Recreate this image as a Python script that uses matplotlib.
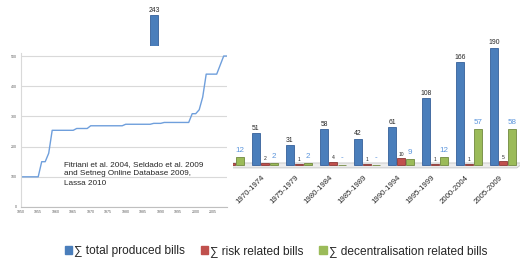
import matplotlib
matplotlib.use('Agg')
import matplotlib.pyplot as plt
from matplotlib.patches import Patch
import numpy as np

plt.rcParams['font.family'] = ['Liberation Sans', 'DejaVu Sans']

# bar chart data (five-year periods)
periods = ['1955-1959', '1960-1964', '1965-1969', '1970-1974', '1975-1979',
           '1980-1984', '1985-1989', '1990-1994', '1995-1999', '2000-2004',
           '2005-2009']
total_bills = [243, 120, 90, 51, 31, 58, 42, 61, 108, 166, 190]
risk_bills = [2, 1, 3, 2, 1, 4, 1, 10, 1, 1, 5]
decent_bills = [3, 2, 12, 2, 2, 0, 0, 9, 12, 57, 58]

# line chart data (cumulative)
years = [1950, 1955, 1956, 1957, 1958, 1959, 1965, 1966, 1969, 1970, 1979,
         1980, 1987, 1988, 1990, 1991, 1998, 1999, 2000, 2001, 2002, 2003,
         2006, 2007, 2008, 2009]
cumulative = [100, 100, 150, 150, 178, 254, 254, 260, 260, 269, 269, 274,
              274, 277, 277, 280, 280, 309, 309, 322, 364, 440, 440, 470,
              500, 500]

note = ('Fitriani et al. 2004, Seldado et al. 2009\n'
        'and Setneg Online Database 2009,\nLassa 2010')

W, H = 532, 265
fig = plt.figure(figsize=(W / 100, H / 100), dpi=100)

# ---- bar chart ----
ax = fig.add_axes([100 / W, 96 / H, 420 / W, 162 / H])
idx = np.arange(len(periods))
bw = 0.26
off = 0.265
blue, red, green = '#4a7ebb', '#c0504d', '#9bbb59'

# floor
ax.fill([-1.5, 10.41, 10.59, -1.5], [-5.5, -5.5, 2.5, 2.5], color='#ececec',
        ec='#c4c4c4', lw=0.6, zorder=1)

ax.bar(idx - off, total_bills, bw, color=blue, edgecolor='#36609a', lw=0.6, zorder=3)
ax.bar(idx, risk_bills, bw, color=red, edgecolor='#8c3836', lw=0.6, zorder=3)
ax.bar(idx + off, decent_bills, bw, color=green, edgecolor='#71893f', lw=0.6, zorder=3)

for i in idx:
    ax.text(i - off, total_bills[i] + 2, str(total_bills[i]), ha='center',
            va='bottom', fontsize=4.9, color='#262626')
    ax.text(i, risk_bills[i] + 3, str(risk_bills[i]), ha='center',
            va='bottom', fontsize=3.6, color='#262626')
    lab = str(decent_bills[i]) if decent_bills[i] > 0 else '-'
    ax.text(i + off, decent_bills[i] + 5, lab, ha='center', va='bottom',
            fontsize=5.8, color='#5b95dc')
    ax.text(i - 0.12, -15.4, periods[i], ha='right', va='top', rotation=45,
            rotation_mode='anchor', fontsize=5.6, color='#262626')

ax.set_xlim(-1.853, 10.5)
ax.set_ylim(-7.3, 256.1)
ax.axis('off')

# ---- white cover behind the line chart ----
cover = fig.add_axes([0, 41 / H, 233 / W, 178 / H], zorder=2)
cover.set_facecolor('white')
cover.set_xticks([])
cover.set_yticks([])
for s in cover.spines.values():
    s.set_visible(False)

# ---- line chart ----
lx = fig.add_axes([20.7 / W, 58 / H, 206.5 / W, 154 / H], zorder=3)
lx.set_facecolor('white')
lx.plot(years, cumulative, color='#6f9fdc', lw=1.0)
lx.set_xlim(1950, 2009)
lx.set_ylim(0, 510)
lx.set_xticks(np.arange(1950, 2006, 5))
lx.set_yticks(np.arange(0, 501, 100))
lx.tick_params(labelsize=2.6, colors='#595959', length=0, pad=2.5)
lx.grid(axis='y', color='#d9d9d9', lw=0.8)
lx.set_axisbelow(True)
for s in ['top', 'right']:
    lx.spines[s].set_visible(False)
lx.spines['left'].set_color('#d9d9d9')
lx.spines['bottom'].set_color('#bfbfbf')
lx.text(1962.3, 152, note, fontsize=5.9, color='#262626', va='top',
        linespacing=1.45)

# ---- legend ----
handles = [Patch(color=blue), Patch(color=red), Patch(color=green)]
labels = ['∑ total produced bills', '∑ risk related bills',
          '∑ decentralisation related bills']
fig.legend(handles, labels, loc='center', bbox_to_anchor=(0.519, 0.053),
           ncol=3, frameon=False, fontsize=8.6, handlelength=0.6,
           handleheight=0.6, handletextpad=0.2, columnspacing=1.3,
           labelcolor='#262626')

fig.savefig('out.png', dpi=100)
